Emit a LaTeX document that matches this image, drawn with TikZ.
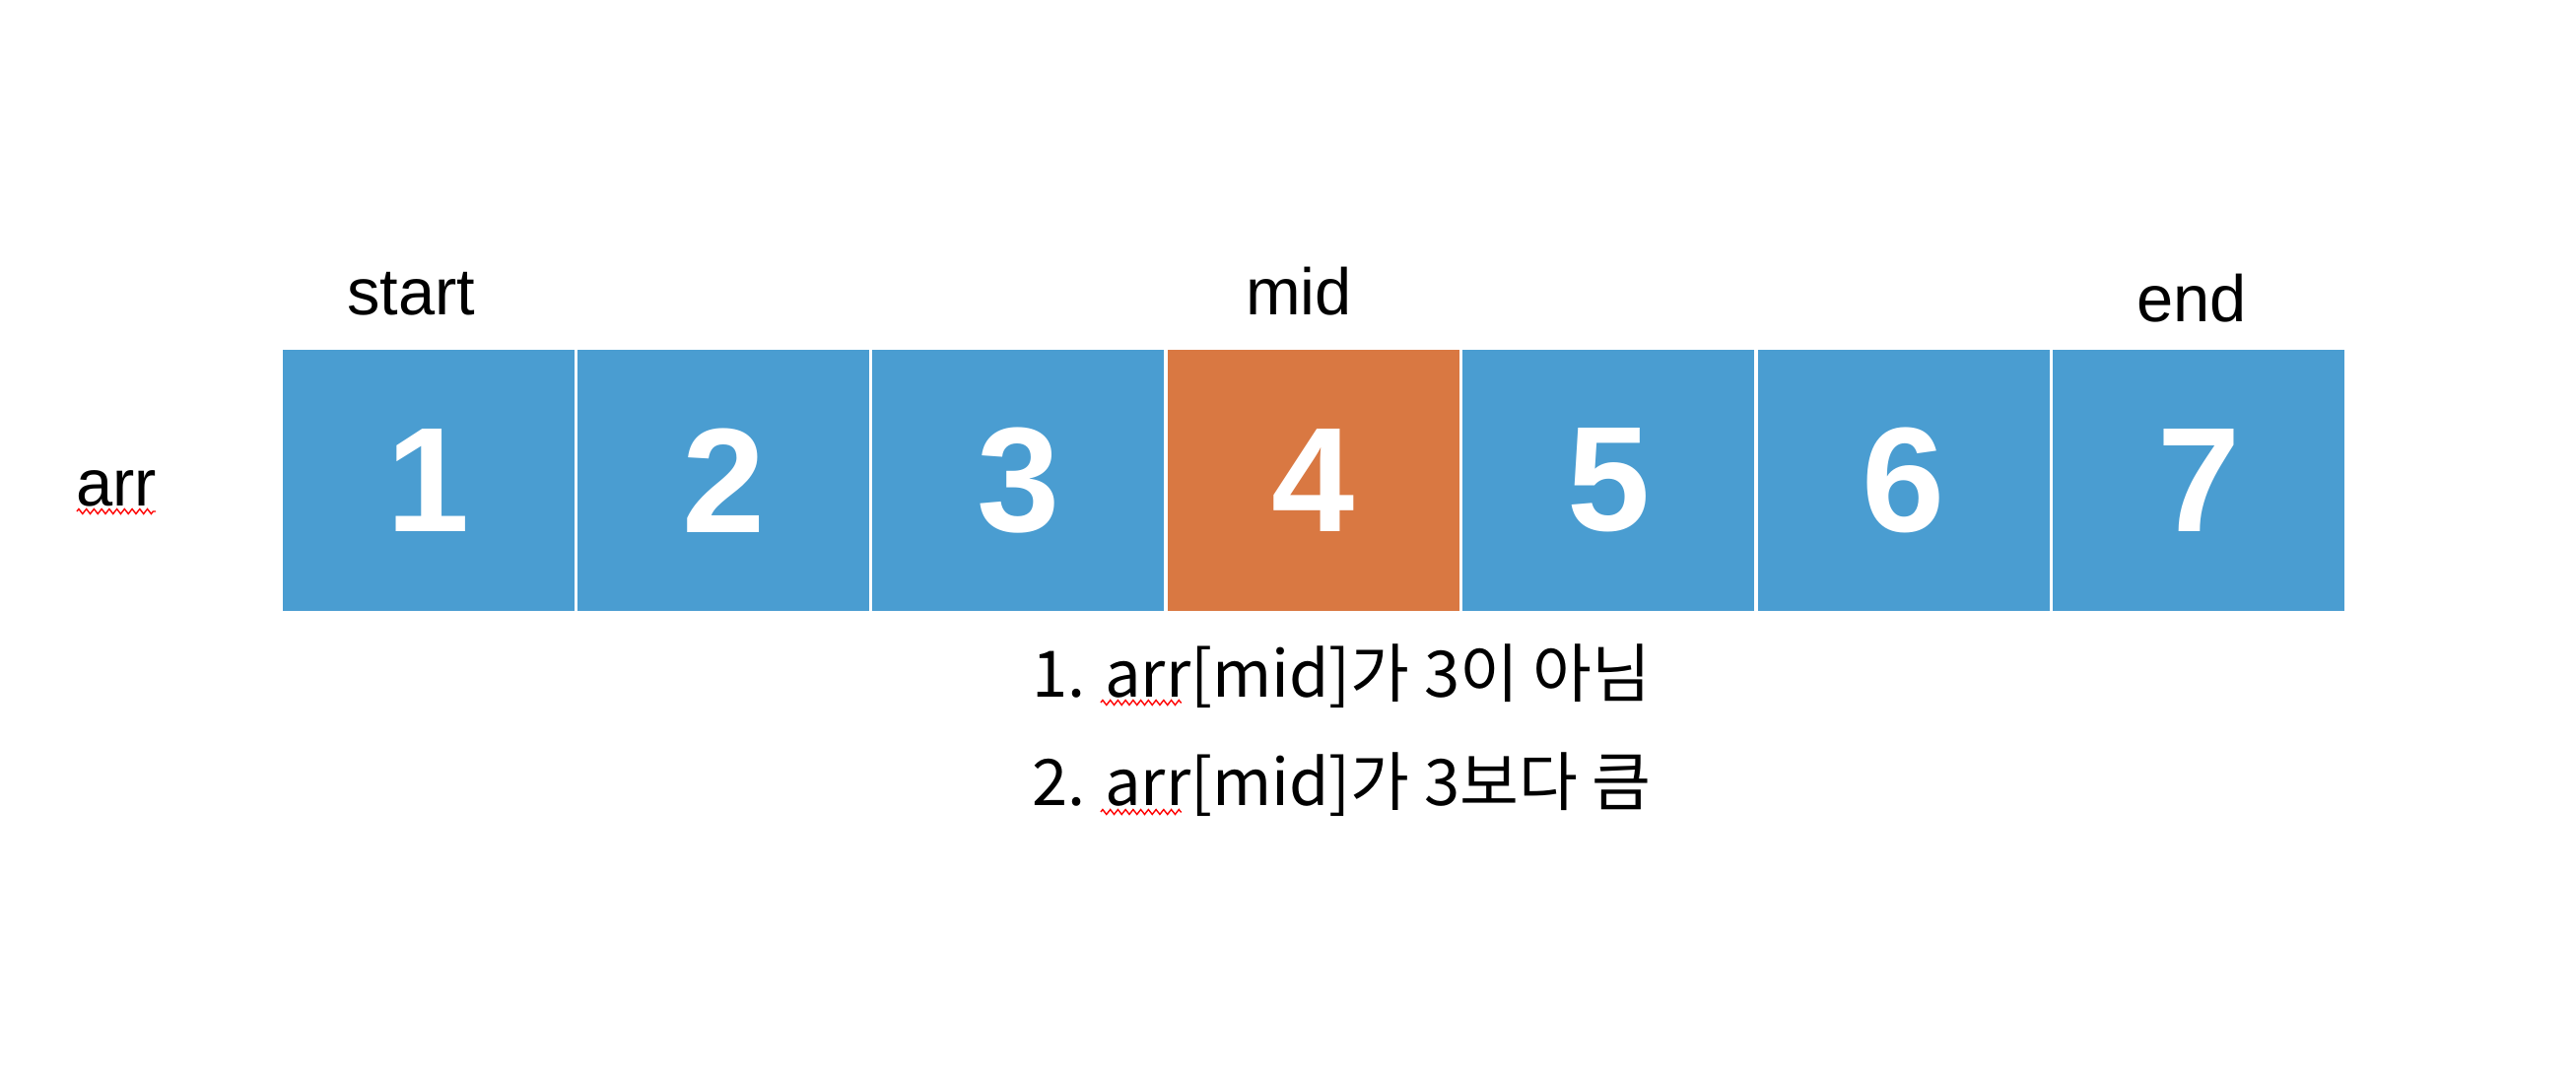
\documentclass[tikz,border=0pt]{standalone}
\usepackage{fontspec}
\setmainfont{Liberation Sans}
\newfontfamily\kofont{Noto Sans CJK KR}
\usetikzlibrary{positioning}
\usetikzlibrary{decorations.pathmorphing}
\definecolor{cellblue}{RGB}{74,157,209}
\definecolor{cellorange}{RGB}{217,120,66}

\begin{document}
\begin{tikzpicture}[x=0.01cm, y=-0.01cm,
	cell/.style={draw=white, line width=1pt, minimum width=2.994cm,
	minimum height=2.69cm, inner sep=0pt, text=white,
	font=\fontsize{43}{43}\selectfont\bfseries},
	lbl/.style={font=\fontsize{19}{19}\selectfont, inner sep=0pt, anchor=base},
	kline/.style={font=\fontsize{18.5}{18.5}\selectfont\kofont, inner sep=0pt, anchor=base west},
	squig/.style={draw=red, line width=0.4pt, decorate,
	decoration={zigzag, amplitude=0.7pt, segment length=2.2pt}}]
\useasboundingbox (0,0) rectangle (2614,1094);
% array cells
\foreach \i in {1,...,7}{
	\ifnum\i=4 \def\cfill{cellorange}\else \def\cfill{cellblue}\fi
	\node[cell, fill=\cfill] (c\i) at ({285+(\i-0.5)*299.4}, 487.5) {\i};
}
% pointers
\node[lbl] (lstart) at (417, 320) {start};
\node[lbl] (lmid) at (1318, 320) {mid};
\node[lbl] (lend) at (2224, 327) {end};
\node[lbl] (larr) at (118, 513) {arr};
% notes
\node[kline] (note1) at (1047, 707) {1. arr[mid]가 3이 아님};
\node[kline] (note2) at (1047, 817) {2. arr[mid]가 3보다 큼};
% spell check marks
\draw[squig] (78, 519) -- (158, 519);
\draw[squig] (1117, 713) -- (1199, 713);
\draw[squig] (1117, 824) -- (1199, 824);
\end{tikzpicture}
\end{document}
